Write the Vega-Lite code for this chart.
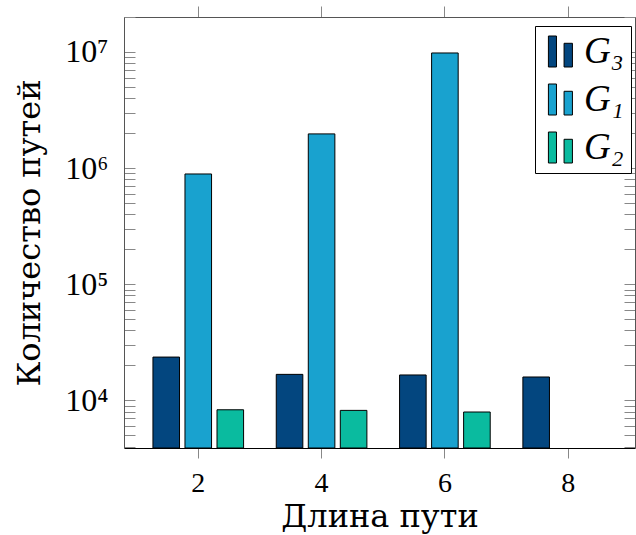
{
  "$schema": "https://vega.github.io/schema/vega-lite/v6.json",
  "autosize": "none",
  "width": 511,
  "height": 431,
  "padding": {"left": 124, "top": 17, "right": 1, "bottom": 87},
  "config": {
    "view": {"stroke": null},
    "font": "Liberation Serif",
    "axis": {"grid": false, "labelFont": "Liberation Serif", "titleFont": "DejaVu Serif", "labelColor": "black", "titleColor": "black", "titleFontWeight": "normal", "tickColor": "#888", "domainColor": "#555"}
  },
  "data": {
    "values": [
      {"len": 2, "graph": "G₃", "count": 23600},
      {"len": 2, "graph": "G₁", "count": 890000},
      {"len": 2, "graph": "G₂", "count": 8300},
      {"len": 4, "graph": "G₃", "count": 16750},
      {"len": 4, "graph": "G₁", "count": 1970000},
      {"len": 4, "graph": "G₂", "count": 8200},
      {"len": 6, "graph": "G₃", "count": 16550},
      {"len": 6, "graph": "G₁", "count": 9800000},
      {"len": 6, "graph": "G₂", "count": 7940},
      {"len": 8, "graph": "G₃", "count": 15900}
    ]
  },
  "encoding": {
    "x": {
      "field": "len", "type": "ordinal",
      "scale": {"domain": [2, 4, 6, 8], "paddingInner": 0.265, "paddingOuter": 0.2045, "align": 0.574}
    },
    "xOffset": {
      "field": "graph", "type": "nominal",
      "scale": {"domain": ["G₃", "G₁", "G₂"], "paddingInner": 0.17, "paddingOuter": 0}
    },
    "y": {
      "field": "count", "type": "quantitative", "stack": null,
      "scale": {"type": "log", "domain": [3890, 20000000], "nice": false}
    }
  },
  "layer": [
    {
      "mark": {"type": "bar", "stroke": "black", "strokeWidth": 1},
      "encoding": {
        "x": {
          "field": "len", "type": "ordinal",
          "axis": {"orient": "bottom", "labelAngle": 0, "labelFontSize": 28, "labelPadding": 11, "tickSize": 10, "tickColor": "#888", "domainColor": "black", "domainWidth": 1.2, "title": "Длина пути", "titleFontSize": 32, "titlePadding": 4}
        },
        "y": {
          "field": "count", "type": "quantitative", "stack": null,
          "axis": {
            "orient": "left",
            "values": [4000,5000,6000,7000,8000,9000,10000,20000,30000,40000,50000,60000,70000,80000,90000,100000,200000,300000,400000,500000,600000,700000,800000,900000,1000000,2000000,3000000,4000000,5000000,6000000,7000000,8000000,9000000,10000000,20000000],
            "labelExpr": "datum.value==10000?'10⁴':datum.value==100000?'10⁵':datum.value==1000000?'10⁶':datum.value==10000000?'10⁷':''",
            "labelFontSize": 32,
            "labelPadding": 27,
            "labelOverlap": false,
            "tickSize": -11,
            "encode": {"ticks": {"update": {"x2": {"signal": "(datum.value==10000||datum.value==100000||datum.value==1000000||datum.value==10000000)?11:7"}}}},
            "title": "Количество путей",
            "titleFontSize": 32,
            "titlePadding": 18
          }
        },
        "color": {
          "field": "graph", "type": "nominal",
          "scale": {"domain": ["G₃", "G₁", "G₂"], "range": ["#03467f", "#19a2cf", "#0abb9f"]},
          "legend": {
            "orient": "none", "legendX": 411, "legendY": 9,
            "title": null,
            "symbolType": "M-0.78,-1H-0.26V1H-0.78Z M0.23,-0.53H0.77V1H0.23Z",
            "symbolSize": 961,
            "symbolStrokeColor": "black",
            "symbolStrokeWidth": 1,
            "labelFontSize": 37,
            "labelFontStyle": "italic",
            "labelFont": "Liberation Serif",
            "labelColor": "black",
            "labelOffset": 5,
            "rowPadding": 10,
            "padding": 7,
            "strokeColor": "black",
            "fillColor": "white"
          }
        }
      }
    },
    {
      "mark": {"type": "bar", "opacity": 0},
      "encoding": {
        "x": {
          "field": "len", "type": "ordinal",
          "axis": {"orient": "top", "labels": false, "title": null, "tickSize": 11, "tickColor": "#888", "domainColor": "#555"}
        },
        "y": {
          "field": "count", "type": "quantitative", "stack": null,
          "axis": {
            "orient": "right", "labels": false, "title": null,
            "values": [4000,5000,6000,7000,8000,9000,10000,20000,30000,40000,50000,60000,70000,80000,90000,100000,200000,300000,400000,500000,600000,700000,800000,900000,1000000,2000000,3000000,4000000,5000000,6000000,7000000,8000000,9000000,10000000,20000000],
            "tickSize": -11,
            "encode": {"ticks": {"update": {"x2": {"signal": "(datum.value==10000||datum.value==100000||datum.value==1000000||datum.value==10000000)?-11:-7"}}}}
          }
        }
      }
    }
  ],
  "resolve": {"axis": {"x": "independent", "y": "independent"}}
}
